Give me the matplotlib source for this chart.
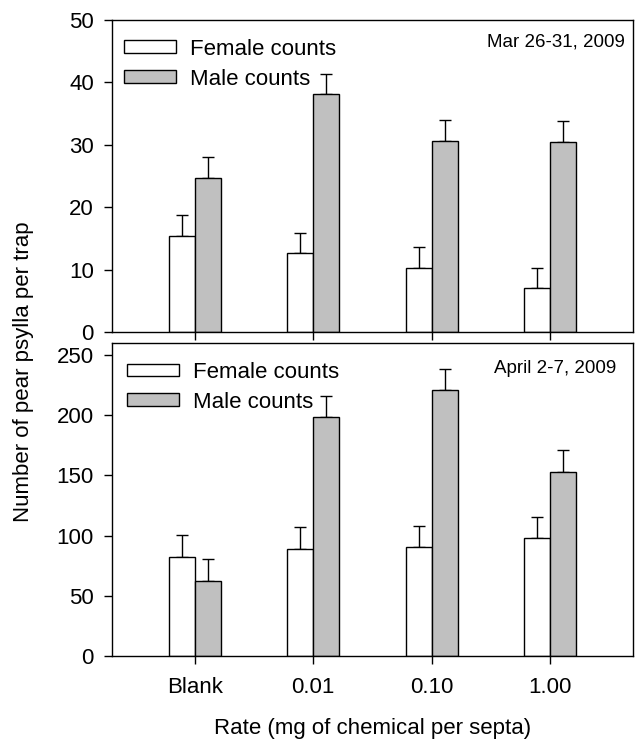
import numpy as np
import matplotlib
matplotlib.use("Agg")
import matplotlib.pyplot as plt

plt.rcParams['font.family'] = ['Liberation Sans', 'DejaVu Sans']

# data
categories = ['Blank', '0.01', '0.10', '1.00']

mar_female = [15.4, 12.6, 10.3, 7.0]
mar_female_err = [3.3, 3.3, 3.3, 3.3]
mar_male = [24.7, 38.1, 30.6, 30.5]
mar_male_err = [3.4, 3.3, 3.3, 3.3]

apr_female = [82.2, 88.9, 90.6, 97.8]
apr_female_err = [18.1, 18.0, 17.7, 18.0]
apr_male = [62.5, 198.3, 220.6, 153.1]
apr_male_err = [17.8, 17.8, 18.0, 18.0]

x = np.arange(len(categories))
w = 0.22
gray = '#c0c0c0'

fig = plt.figure(figsize=(6.39, 7.42), dpi=100)
ax1 = fig.add_axes([0.1753, 0.5526, 0.8153, 0.4205])
ax2 = fig.add_axes([0.1753, 0.1159, 0.8153, 0.4218])


def draw_panel(ax, fem, fem_err, male, male_err, ylim, yticks, note, note_xy, leg_xy):
    ax.bar(x - w / 2, fem, w, color='white', edgecolor='black', linewidth=1,
           label='Female counts', zorder=2)
    ax.bar(x + w / 2, male, w, color=gray, edgecolor='black', linewidth=1,
           label='Male counts', zorder=2)
    ax.errorbar(x - w / 2, fem, yerr=[np.zeros(len(fem)), fem_err], fmt='none',
                ecolor='black', elinewidth=1, capsize=4, capthick=1, zorder=1)
    ax.errorbar(x + w / 2, male, yerr=[np.zeros(len(male)), male_err], fmt='none',
                ecolor='black', elinewidth=1, capsize=4, capthick=1, zorder=1)
    ax.set_xlim(-0.7, 3.7)
    ax.set_ylim(*ylim)
    ax.set_yticks(yticks)
    ax.set_xticks(x)
    ax.tick_params(direction='out', length=6, width=1, labelsize=16, top=False, right=False)
    ax.tick_params(axis='y', pad=7)
    ax.tick_params(axis='x', pad=9)
    for s in ax.spines.values():
        s.set_linewidth(1)
    ax.text(note_xy[0], note_xy[1], note, transform=ax.transAxes, ha='right',
            va='center', fontsize=13.5)
    ax.legend(loc='upper left', bbox_to_anchor=leg_xy, frameon=False, fontsize=16,
              borderpad=0, borderaxespad=0, handlelength=2.35, handleheight=0.5,
              handletextpad=0.6, labelspacing=0.4)


draw_panel(ax1, mar_female, mar_female_err, mar_male, mar_male_err,
           (0, 50), np.arange(0, 51, 10), 'Mar 26-31, 2009', (0.985, 0.928), (0.023, 0.94))
ax1.set_xticklabels([])

draw_panel(ax2, apr_female, apr_female_err, apr_male, apr_male_err,
           (0, 260), np.arange(0, 251, 50), 'April 2-7, 2009', (0.967, 0.92), (0.029, 0.94))
ax2.set_xticklabels(categories)

fig.text(0.036, 1 - 372 / 742, 'Number of pear psylla per trap', rotation=90,
         ha='center', va='center', fontsize=16)
fig.text((112 + 633) / 2 / 639, 1 - 734 / 742, 'Rate (mg of chemical per septa)',
         ha='center', va='baseline', fontsize=16)

fig.savefig('out.png', dpi=100)
